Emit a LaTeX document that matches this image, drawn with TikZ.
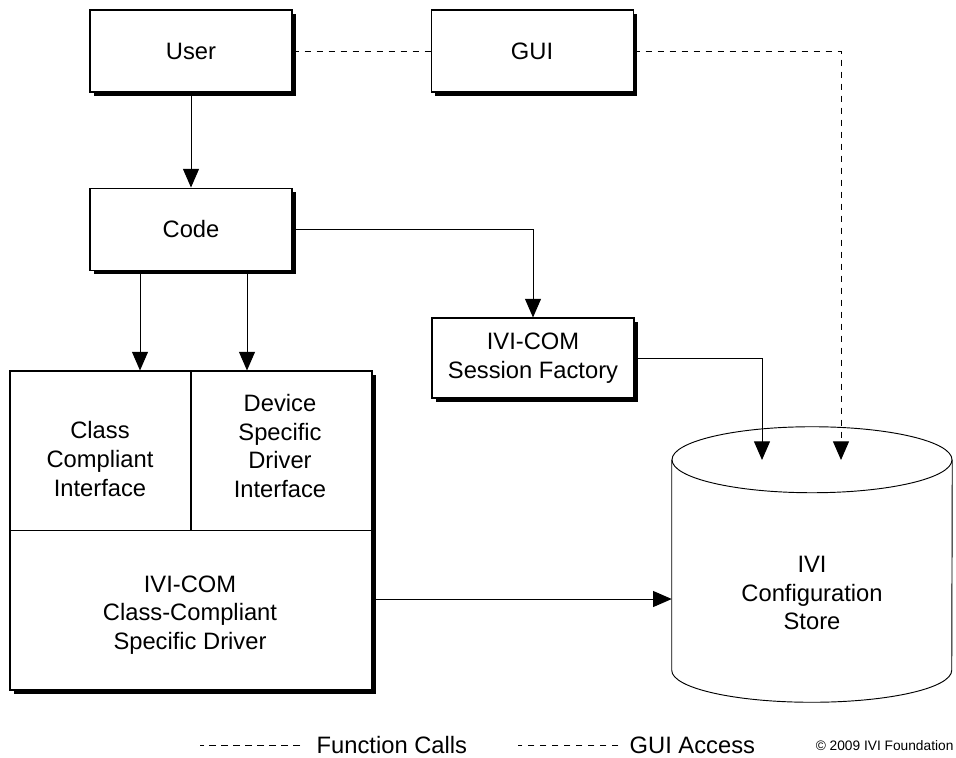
\documentclass[tikz,border=0pt]{standalone}
\usepackage{fontspec}
\setmainfont{Liberation Sans}
\usepackage{tikz}
\usetikzlibrary{positioning, arrows.meta, shadows}

\begin{document}
\begin{tikzpicture}[
    x=0.75pt, y=-0.75pt,
    font=\fontsize{17.8}{21.5}\selectfont,
    >={Triangle[length=14pt,width=12pt]},
    box/.style={
        draw,
        line width=0.8pt,
        fill=white,
        align=center,
        minimum width=151.5pt,
        minimum height=61.5pt,
        drop shadow={shadow xshift=3.2pt, shadow yshift=-3.2pt, fill=black, opacity=1}
    },
    bigbox/.style={
        box,
        minimum width=271.5pt,
        minimum height=239.25pt
    },
    storeline/.style={
        line width=0.7pt
    },
    arrow/.style={
        ->,
        line width=0.75pt
    },
    dasharrow/.style={
        arrow,
        dash pattern=on 5pt off 4pt
    },
    dashline/.style={
        line width=0.7pt,
        dash pattern=on 5pt off 4pt
    }
]
\useasboundingbox (0,0) rectangle (956,757);

% User, GUI and Code boxes
\node[box] (user) at (191,51) {User};
\node[box, right=103.5pt of user] (gui) {GUI};
\node[box, below=71.25pt of user] (code) {Code};

% Session factory
\node[box, minimum height=60pt] (sf) at (533,358) {IVI-COM\\Session Factory};

% Driver block with its three parts
\node[bigbox] (drv) at (191,530.5) {};
\draw[line width=0.8pt] (drv.west) -- (drv.east);
\draw[line width=0.8pt] (drv.north) -- (drv.center);
\node[align=center] (cci)  at (100,459) {Class\\Compliant\\Interface};
\node[align=center] (dsdi) at (280,446) {Device\\Specific\\Driver\\Interface};
\node[align=center] (ivicom) at (190,615) {IVI-COM\\Class-Compliant\\Specific Driver};

% Configuration store (cylinder)
\node[minimum width=210pt, minimum height=206.25pt] (store) at (812,564.5) {};
\draw[storeline] ([yshift=-24.75pt]store.north) ellipse [x radius=140, y radius=33];
\draw[storeline] ([yshift=-24.75pt]store.north west) -- ([yshift=24pt]store.south west)
    arc[start angle=180, end angle=0, x radius=140, y radius=32] -- ([yshift=-24.75pt]store.north east);
\node[align=center] (storetxt) at (812,593) {IVI\\Configuration\\Store};
\coordinate (sftip)  at (762,460);
\coordinate (guitip) at (841,460);
\coordinate (feed)   at (0,599);

% Connectors
\draw[dashline] (user.east) -- (gui.west);
\draw[dasharrow] (gui.east) -| (guitip);
\draw[arrow] (user.south) -- (code.north);
\draw[arrow] ([xshift=-38.25pt]code.south) -- ([xshift=-38.25pt]code.south |- drv.north);
\draw[arrow] ([xshift=42pt]code.south) -- ([xshift=42pt]code.south |- drv.north);
\draw[arrow] (code.east) -| (sf.north);
\draw[arrow] (sf.east) -| (sftip);
\draw[arrow] (drv.east |- feed) -- (store.west |- feed);

% Legend
\node[anchor=west] (lgfc)  at (312,745) {Function Calls};
\node[anchor=west] (lggui) at (625,745) {GUI Access};
\draw[dashline] ([xshift=-9pt]lgfc.west) -- ++(-75pt,0);
\draw[dashline] ([xshift=-5pt]lggui.west) -- ++(-75pt,0);
\node[anchor=east, inner sep=1pt, font=\fontsize{10.3}{12}\selectfont] (copy) at (955,746) {\copyright\ 2009 IVI Foundation};

\end{tikzpicture}
\end{document}
